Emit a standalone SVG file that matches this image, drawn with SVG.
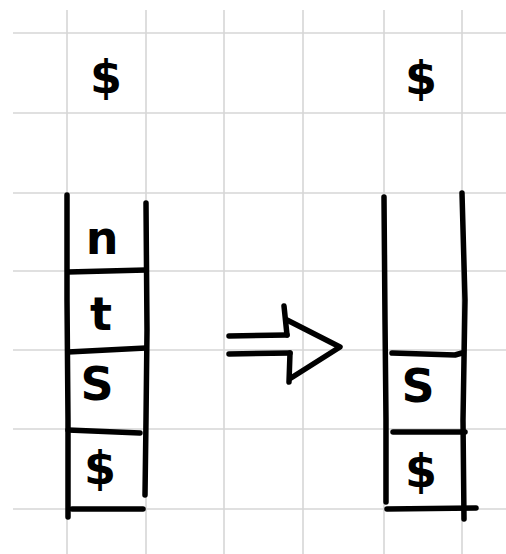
<svg xmlns="http://www.w3.org/2000/svg" width="506" height="554" viewBox="0 0 506 554">
<style>
.grid line{stroke:#d6d6d6;stroke-width:1.6}
.ink{fill:none;stroke:#000;stroke-width:5.5;stroke-linecap:round;stroke-linejoin:round}
.lbl{font-family:"DejaVu Sans",sans-serif;font-weight:bold;font-size:46px;fill:#000;text-anchor:middle}
</style>
<rect width="506" height="554" fill="#fff"/>
<g class="grid">
<line x1="67" y1="10" x2="67" y2="554"/>
<line x1="146" y1="10" x2="146" y2="554"/>
<line x1="224" y1="10" x2="224" y2="554"/>
<line x1="303" y1="10" x2="303" y2="554"/>
<line x1="384" y1="10" x2="384" y2="554"/>
<line x1="462" y1="10" x2="462" y2="554"/>
<line x1="13" y1="33" x2="506" y2="33"/>
<line x1="13" y1="113" x2="506" y2="113"/>
<line x1="13" y1="193" x2="506" y2="193"/>
<line x1="13" y1="271" x2="506" y2="271"/>
<line x1="13" y1="350" x2="506" y2="350"/>
<line x1="13" y1="429" x2="506" y2="429"/>
<line x1="13" y1="509" x2="506" y2="509"/>
</g>
<g id="top-left-symbol"><text class="lbl" x="106" y="93">$</text></g>
<g id="top-right-symbol"><text class="lbl" x="421" y="94">$</text></g>
<g id="stack-left">
<path class="ink" d="M67,195 L67,300 L68,420 L68,517"/>
<path class="ink" d="M146,203 L147,330 L146,420 L145,495"/>
<path class="ink" d="M68,272 L146,270"/>
<path class="ink" d="M68,352 L146,348"/>
<path class="ink" d="M68,430 L140,433"/>
<path class="ink" d="M72,509 L143,509"/>
</g>
<g id="cell-n"><text class="lbl" x="102" y="254">n</text></g>
<g id="cell-t"><text class="lbl" x="101" y="330">t</text></g>
<g id="cell-S-left"><text class="lbl" x="97" y="400">S</text></g>
<g id="cell-dollar-left"><text class="lbl" x="100" y="484">$</text></g>
<g id="stack-right">
<path class="ink" d="M384,197 L385,320 L386,420 L386,502"/>
<path class="ink" d="M462,193 L465,300 L463,420 L464,519"/>
<path class="ink" d="M392,353 L455,355 L462,353"/>
<path class="ink" d="M393,432 L465,432"/>
<path class="ink" d="M387,509 L476,508"/>
</g>
<g id="cell-S-right"><text class="lbl" x="418" y="402">S</text></g>
<g id="cell-dollar-right"><text class="lbl" x="421" y="487">$</text></g>
<g id="connectors">
<path class="ink" d="M229,336 L287,335"/>
<path class="ink" d="M229,354 L290,353"/>
<path class="ink" d="M284,306 L287,335 M290,353 L289,382"/>
<path class="ink" d="M287,320 L340,347 L291,378"/>
</g>
</svg>
